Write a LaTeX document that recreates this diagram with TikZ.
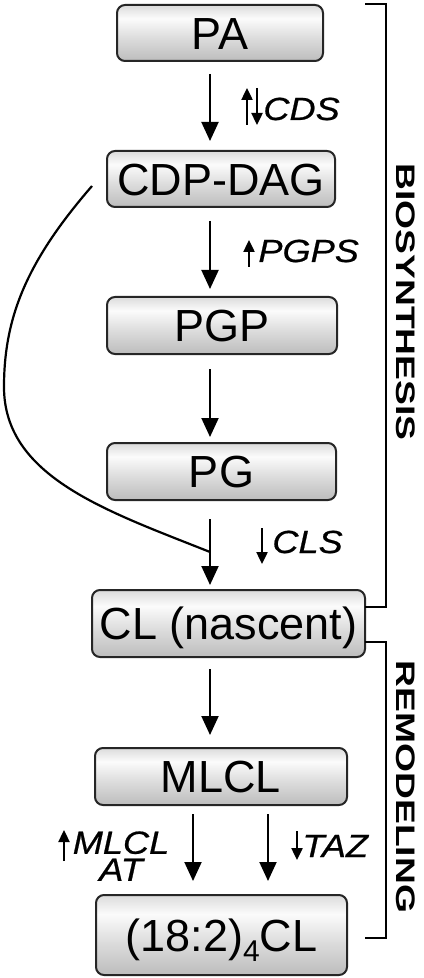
\documentclass[tikz,border=0pt]{standalone}
\usepackage{fontspec}
\setmainfont{Liberation Sans}
\newfontfamily\enzfont{Liberation Sans Italic}[FakeBold=0.6]
\usetikzlibrary{arrows.meta,calc}

\definecolor{shA}{gray}{0.74}
\definecolor{shB}{gray}{0.86}
\definecolor{shC}{gray}{0.985}
\definecolor{shD}{gray}{0.86}
\pgfdeclareverticalshading{boxshade}{100bp}{color(0bp)=(shA); color(25bp)=(shA); color(45bp)=(shB); color(63bp)=(shC); color(75bp)=(shD); color(100bp)=(shD)}
\newcommand{\enzwide}[1]{\scalebox{1.13}[1]{#1}}

\begin{document}
\begin{tikzpicture}[x=0.5pt,y=-0.5pt,
  chem/.style={draw=black!85, line width=1pt, rounded corners=4pt, shading=boxshade, inner sep=0pt, text height=16.1pt, text depth=0pt, font=\fontsize{22.5pt}{27pt}\selectfont},
  flow/.style={line width=1pt, -{Triangle[length=9.5pt,width=8.5pt]}},
  tick/.style={line width=1.2pt, -{Triangle[length=6pt,width=5.5pt]}},
  enz/.style={inner sep=0pt, anchor=base west, font=\enzfont\fontsize{16pt}{13.5pt}\selectfont},
  brk/.style={line width=1pt},
  side/.style={inner sep=0pt, rotate=-90, font=\fontsize{18.6pt}{20pt}\selectfont\bfseries}
]
\useasboundingbox (0,0) rectangle (423,978);

% boxes
\node[chem, minimum width=103pt, minimum height=28pt] (PA) at (220,33) {PA};
\node[chem, minimum width=114pt, minimum height=28pt] (CDP) at (221,179) {CDP-DAG};
\node[chem, minimum width=115pt, minimum height=28.5pt] (PGP) at (222,325.5) {PGP};
\node[chem, minimum width=114.5pt, minimum height=28.5pt] (PG) at (221.5,471.5) {PG};
\node[chem, minimum width=136.5pt, minimum height=33.5pt] (CL) at (228.5,623.5) {CL (nascent)};
\node[chem, minimum width=126pt, minimum height=28.5pt] (MLCL) at (221,776.5) {MLCL};
\node[chem, minimum width=125.5pt, minimum height=40pt] (FCL) at (221.5,935) {(18:2){\fontsize{15pt}{15pt}\selectfont\raisebox{-5pt}{4}}CL};

% arrow axes
\coordinate (ax) at (210,0);
\coordinate (axl) at (193,0);
\coordinate (axr) at (268,0);

\draw[flow, shorten <=6pt, shorten >=4.5pt] (PA.south -| ax) -- (CDP.north -| ax);
\draw[flow, shorten <=6.5pt, shorten >=3.5pt] (CDP.south -| ax) -- (PGP.north -| ax);
\draw[flow, shorten <=7pt, shorten >=2.5pt] (PGP.south -| ax) -- (PG.north -| ax);
\draw[flow, shorten <=9pt, shorten >=2pt] (PG.south -| ax) -- (CL.north -| ax);
\draw[flow, shorten <=5.5pt, shorten >=6pt] (CL.south -| ax) -- (MLCL.north -| ax);
\draw[flow, shorten <=4pt, shorten >=6.5pt] (MLCL.south -| axl) -- (FCL.north -| axl);
\draw[flow, shorten <=4pt, shorten >=6.5pt] (MLCL.south -| axr) -- (FCL.north -| axr);

% bypass curve
\coordinate (cstart) at ($(CDP.west)+(-14,7)$);
\coordinate (cjoin) at (210,552);
\draw[line width=1.1pt] (cstart) .. controls (27,261) and (4,317) .. (4,387) .. controls (4,477) and (107,511) .. (cjoin);

% enzyme labels
\node[enz] (cds) at (263,120) {\enzwide{CDS}};
\draw[tick] (247,125) -- (247,88);
\draw[tick] (257,88) -- (257,125);

\node[enz] (pgps) at (258,262) {\enzwide{PGPS}};
\draw[tick] (249,267) -- (249,240);

\node[enz] (cls) at (272,553) {\enzwide{CLS}};
\draw[tick] (262,528) -- (262,564);

\node[enz, anchor=north, align=center] (mlclat) at (121,831) {\enzwide{MLCL}\\\enzwide{AT}};
\draw[tick] (64,861) -- (64,830);

\node[enz] (taz) at (302,857) {\enzwide{TAZ}};
\draw[tick] (297,831) -- (297,860);

% brackets
\draw[brk] (365,4) -- (386,4) -- (386,607) -- (365,607);
\draw[brk] (365,642) -- (386,642) -- (386,938) -- (365,938);

\node[side] (bio) at (406,302) {\scalebox{1}[0.72]{BIOSYNTHESIS}};
\node[side] (remod) at (406,787) {\scalebox{1}[0.72]{REMODELING}};
\end{tikzpicture}
\end{document}
